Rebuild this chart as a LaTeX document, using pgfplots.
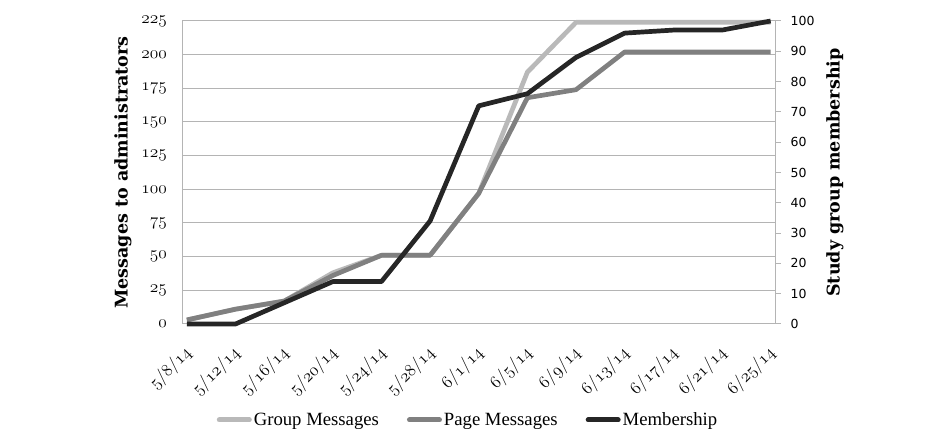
\documentclass[border=0pt]{standalone}
\usepackage{fontspec}
\setmainfont{Liberation Serif}
\newfontfamily\djs{DejaVu Sans}
\newfontfamily\djserif{DejaVu Serif}
\usepackage{pgfplots}
\pgfplotsset{compat=1.18}
\definecolor{cgroup}{RGB}{185,185,185}
\definecolor{cpage}{RGB}{128,128,128}
\definecolor{cmem}{RGB}{38,38,38}
\definecolor{cgrid}{RGB}{180,180,180}
\newcommand\osf{\fontencoding{OML}\fontfamily{lmm}\fontseries{m}\fontshape{it}\fontsize{17}{17}\selectfont}
\newcommand\osfx{\fontencoding{OML}\fontfamily{lmm}\fontseries{m}\fontshape{it}\fontsize{18}{18}\selectfont}
\newcommand\dsl{\char61\relax}
\begin{document}
\begin{tikzpicture}[x=1pt,y=1pt]
\useasboundingbox (0,0) rectangle (950,443);
\begin{axis}[
  at={(182pt,119pt)}, anchor=south west, scale only axis,
  width=593.5pt, height=303pt,
  xmin=-0.1, xmax=12.1, ymin=0, ymax=225, clip=false,
  xtick={0,...,12},
  xticklabels={5\dsl8\dsl14,5\dsl12\dsl14,5\dsl16\dsl14,5\dsl20\dsl14,5\dsl24\dsl14,5\dsl28\dsl14,6\dsl1\dsl14,6\dsl5\dsl14,6\dsl9\dsl14,6\dsl13\dsl14,6\dsl17\dsl14,6\dsl21\dsl14,6\dsl25\dsl14},
  ytick={0,25,...,225},
  yticklabels={0,25,50,75,100,125,150,175,200,225},
  axis x line*=bottom, axis y line*=left,
  every outer x axis line/.append style={-},
  every outer y axis line/.append style={-},
  axis line style={-, cgrid, line width=1pt},
  major tick length=0pt,
  ymajorgrids, grid style={cgrid, line width=1pt},
  yticklabel style={font=\osf, inner sep=0pt, xshift=-15pt},
  xticklabel style={font=\osfx, rotate=45, anchor=north east, inner sep=0pt, xshift=-17pt, yshift=-11pt},
  ylabel={Messages to administrators},
  ylabel style={font=\djserif\bfseries\fontsize{17.5}{18}\selectfont, at={(axis description cs:-0.0994,0.5)}, anchor=center},
]
\addplot[cgroup, line width=4.7pt, line join=round] coordinates {
 (0,3) (1,11) (2,17) (3,38) (4,51) (5,51) (6,97) (7,187) (8,224) (9,224) (10,224) (11,224) (12,224)};
\addplot[cpage, line width=4.7pt, line join=round] coordinates {
 (0,3) (1,11) (2,17) (3,36) (4,51) (5,51) (6,97) (7,168) (8,174) (9,202) (10,202) (11,202) (12,202)};
\end{axis}
\begin{axis}[
  at={(182pt,119pt)}, anchor=south west, scale only axis,
  width=593.5pt, height=303pt,
  xmin=-0.1, xmax=12.1, ymin=0, ymax=100, clip=false,
  axis x line=none, axis y line*=right,
  every outer y axis line/.append style={-},
  axis line style={-, cgrid, line width=1pt},
  ytick={0,10,...,100},
  yticklabels={0,10,20,30,40,50,60,70,80,90,100},
  tick align=outside, major tick length=5pt,
  tick style={cgrid, line width=1pt},
  yticklabel style={font=\djs\fontsize{12.5}{13}\selectfont, inner sep=0pt, xshift=10pt},
  ylabel={Study group membership},
  ylabel style={font=\djserif\bfseries\fontsize{17.5}{18}\selectfont, at={(axis description cs:1.1003,0.5)}, anchor=center, rotate=0},
  legend columns=3,
  legend style={at={(axis description cs:0.4819,-0.3168)}, anchor=center, draw=none, fill=none,
    font=\fontsize{18.7}{19}\selectfont, inner sep=0pt,
    /tikz/every even column/.append style={column sep=26pt}},
  legend image code/.code={\draw[#1, line width=5pt, line cap=round] (2.5pt,0pt) -- (32.5pt,0pt);},
]
\addlegendimage{cgroup}
\addlegendentry{Group Messages}
\addlegendimage{cpage}
\addlegendentry{Page Messages}
\addplot[cmem, line width=4.7pt, line join=round] coordinates {
 (0,0) (1,0) (2,7) (3,14) (4,14) (5,34) (6,72) (7,76) (8,88) (9,96) (10,97) (11,97) (12,100)};
\addlegendentry{Membership}
\end{axis}
\end{tikzpicture}
\end{document}
